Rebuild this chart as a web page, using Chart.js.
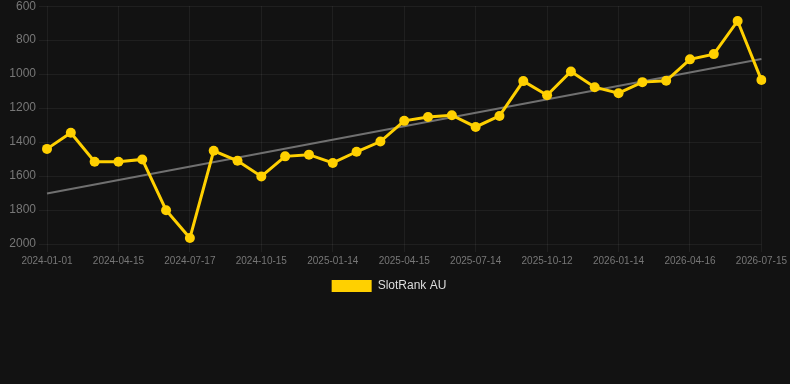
<!DOCTYPE html>
<html>
<head>
<meta charset="utf-8">
<script src="https://cdn.jsdelivr.net/npm/chart.js@4/dist/chart.umd.min.js"></script>
<style>
  html, body { margin: 0; padding: 0; background: #121212; overflow: hidden; }
  #wrap { width: 790px; height: 306px; position: relative; margin-top: -4px; }
</style>
</head>
<body>
<div id="wrap"><canvas id="rankChart"></canvas></div>
<script>
// dates of each sample (only every 3rd one is shown on the axis)
var dates = [
    '2024-01-01', '2024-02-04', '2024-03-10', '2024-04-15', '2024-05-20', '2024-06-12',
    '2024-07-17', '2024-08-16', '2024-09-15', '2024-10-15', '2024-11-14', '2024-12-15',
    '2025-01-14', '2025-02-13', '2025-03-16', '2025-04-15', '2025-05-15', '2025-06-14',
    '2025-07-14', '2025-08-13', '2025-09-12', '2025-10-12', '2025-11-12', '2025-12-13',
    '2026-01-14', '2026-02-13', '2026-03-16', '2026-04-16', '2026-05-16', '2026-06-15',
    '2026-07-15'
];
var rankAU = [
    1440, 1345, 1516, 1516, 1502, 1801, 1965, 1451, 1510, 1602, 1484,
    1474, 1523, 1457, 1397, 1275, 1252, 1242, 1311, 1246, 1041, 1124,
    984, 1077, 1112, 1047, 1039, 913, 882, 687, 1035
];
// trend line, start and end value
var trendStart = 1703;
var trendEnd = 911;
var yTicks = [600, 800, 1000, 1200, 1400, 1600, 1800, 2000];

var trend = dates.map(function (d, i) {
    if (i === 0) return trendStart;
    if (i === dates.length - 1) return trendEnd;
    return null;
});

var gridColor = 'rgba(255,255,255,0.06)';
var fontFamily = 'Liberation Sans, Arial, sans-serif';

// legend sits a bit left of centre in the original
var legendNudge = {
    id: 'legendNudge',
    afterLayout: function (c) {
        if (c.legend) {
            c.legend.left -= 6;
            c.legend.right -= 6;
        }
    }
};

var chart = new Chart(document.getElementById('rankChart'), {
    type: 'line',
    data: {
        labels: dates,
        datasets: [{
            label: 'SlotRank AU',
            data: rankAU,
            borderColor: '#FFD000',
            backgroundColor: '#FFD000',
            borderWidth: 3,
            pointRadius: 5,
            pointHoverRadius: 5,
            pointBackgroundColor: '#FFD000',
            pointBorderWidth: 0,
            tension: 0
        }, {
            label: 'trend',
            data: trend,
            spanGaps: true,
            borderColor: '#707070',
            borderWidth: 2,
            pointRadius: 0,
            fill: false
        }]
    },
    options: {
        responsive: true,
        maintainAspectRatio: false,
        animation: false,
        scales: {
            x: {
                grid: { color: gridColor, tickLength: 8 },
                border: { display: false },
                ticks: {
                    color: '#777777',
                    font: { family: fontFamily, size: 10 },
                    autoSkip: false,
                    maxRotation: 0,
                    callback: function (value, index) {
                        return index % 3 === 0 ? dates[index] : null;
                    }
                }
            },
            y: {
                reverse: true,
                min: yTicks[0],
                max: yTicks[yTicks.length - 1],
                grid: { color: gridColor, tickLength: 8 },
                border: { display: false },
                afterBuildTicks: function (axis) {
                    axis.ticks = yTicks.map(function (v) { return { value: v }; });
                },
                afterFit: function (axis) {
                    axis.width = 47;
                },
                ticks: {
                    color: '#777777',
                    font: { family: fontFamily, size: 12 },
                    callback: function (value) { return String(value); }
                }
            }
        },
        plugins: {
            legend: {
                position: 'bottom',
                labels: {
                    color: '#dddddd',
                    boxWidth: 40,
                    boxHeight: 12,
                    font: { family: fontFamily, size: 12 },
                    filter: function (item) { return item.text !== 'trend'; },
                    generateLabels: function (c) {
                        var items = Chart.defaults.plugins.legend.labels.generateLabels(c);
                        items.forEach(function (it) { it.lineWidth = 0; });
                        return items;
                    }
                }
            },
            tooltip: { enabled: false }
        }
    },
    plugins: [legendNudge]
});
</script>
</body>
</html>
